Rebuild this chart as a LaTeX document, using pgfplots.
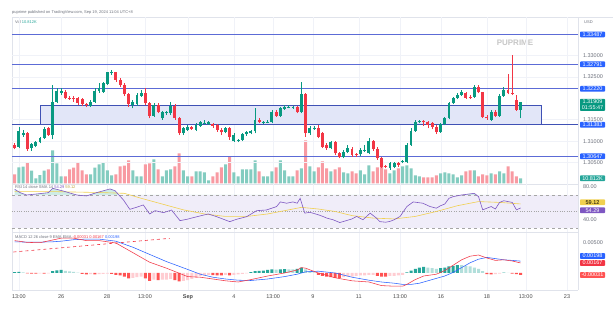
\documentclass[border=0pt]{standalone}
\usepackage{pgfplots}
\usepackage{pgfplotstable}
\pgfplotsset{compat=1.18}
\usepackage{fontspec}
\setmainfont{Liberation Sans}

\definecolor{tvgreen}{RGB}{8,153,129}
\definecolor{tvred}{RGB}{242,54,69}
\definecolor{volgreen}{RGB}{131,204,192}
\definecolor{volred}{RGB}{248,154,162}
\definecolor{hline}{RGB}{92,107,214}
\definecolor{boxfill}{RGB}{226,230,248}
\definecolor{boxedge}{RGB}{63,81,181}
\definecolor{lblblue}{RGB}{41,98,255}
\definecolor{rsipurple}{RGB}{126,87,194}
\definecolor{rsiyellow}{RGB}{240,208,80}
\definecolor{rsiband}{RGB}{240,237,249}
\definecolor{obfill}{RGB}{206,236,230}
\definecolor{hG}{RGB}{38,166,154}
\definecolor{hg}{RGB}{178,223,219}
\definecolor{hR}{RGB}{255,82,82}
\definecolor{hr}{RGB}{255,205,210}
\definecolor{gridc}{RGB}{240,242,248}
\definecolor{framec}{RGB}{224,227,235}
\definecolor{axtext}{RGB}{110,114,125}
\definecolor{voltxt}{RGB}{38,166,154}

\newcommand\tl{\fontsize{5.5}{6.2}\selectfont}
\newcommand\hl{\fontsize{4}{5}\selectfont}

% i open high low close volume(K)
\pgfplotstableread{
i o h l c v
1 1.30871 1.31337 1.30833 1.31236 34.6
2 1.31143 1.31260 1.31104 1.31182 36.1
4 1.30848 1.30949 1.30778 1.30926 27.4
5 1.30895 1.30996 1.30856 1.30972 10.8
6 1.30972 1.31104 1.30949 1.31066 17.9
7 1.31081 1.31337 1.31058 1.31283 27.4
9 1.31143 1.32308 1.31042 1.31920 71.3
10 1.31920 1.32231 1.31881 1.32169 43.2
11 1.32130 1.32231 1.32075 1.32169 15.1
18 1.31819 1.31959 1.31796 1.31920 19.4
19 1.31920 1.32231 1.31897 1.32169 33.9
20 1.32169 1.32347 1.32130 1.32231 41.0
21 1.32153 1.32386 1.32130 1.32347 45.4
22 1.32332 1.32619 1.32308 1.32604 28.1
23 1.32580 1.32658 1.32541 1.32619 17.3
28 1.31842 1.31959 1.31765 1.31920 28.1
29 1.31858 1.32114 1.31827 1.32075 15.1
30 1.32060 1.32192 1.32037 1.32114 15.1
33 1.31594 1.31881 1.31570 1.31842 51.8
35 1.31532 1.31702 1.31493 1.31671 15.1
36 1.31648 1.31702 1.31609 1.31671 28.1
37 1.31648 1.31920 1.31609 1.31827 30.2
40 1.31182 1.31337 1.31143 1.31299 28.1
41 1.31260 1.31376 1.31236 1.31337 15.1
43 1.31260 1.31415 1.31236 1.31376 25.9
44 1.31361 1.31469 1.31337 1.31438 25.9
45 1.31415 1.31493 1.31392 1.31423 23.8
46 1.31400 1.31477 1.31376 1.31454 6.5
50 1.31221 1.31337 1.31182 1.31314 41.0
52 1.31003 1.31182 1.30988 1.31143 23.8
53 1.31011 1.31058 1.30972 1.31027 15.1
54 1.31027 1.31182 1.31003 1.31159 30.2
55 1.31159 1.31236 1.31120 1.31205 30.2
56 1.31182 1.31260 1.31159 1.31236 30.2
57 1.31236 1.31765 1.31182 1.31493 49.7
59 1.31438 1.31477 1.31392 1.31446 15.1
60 1.31446 1.31493 1.31415 1.31454 15.1
61 1.31454 1.31726 1.31415 1.31687 25.9
63 1.31594 1.31803 1.31570 1.31765 49.7
64 1.31749 1.31842 1.31726 1.31803 28.1
65 1.31796 1.31835 1.31765 1.31803 15.1
66 1.31780 1.31819 1.31749 1.31788 15.1
68 1.31671 1.32386 1.31648 1.32091 32.4
70 1.31182 1.31353 1.31143 1.31314 36.7
71 1.31283 1.31353 1.31260 1.31314 25.9
75 1.30833 1.31011 1.30809 1.30972 25.9
78 1.30638 1.30794 1.30599 1.30755 23.8
79 1.30739 1.30910 1.30716 1.30848 21.6
82 1.30693 1.30833 1.30662 1.30794 28.1
83 1.30794 1.30910 1.30755 1.30801 19.4
84 1.30716 1.31066 1.30693 1.31003 38.9
89 1.30366 1.30522 1.30328 1.30483 21.6
90 1.30405 1.30522 1.30366 1.30483 28.1
92 1.30514 1.30561 1.30483 1.30530 36.7
93 1.30522 1.30949 1.30483 1.30910 38.9
94 1.30910 1.31299 1.30887 1.31236 32.4
95 1.31236 1.31493 1.31221 1.31454 17.3
96 1.31446 1.31493 1.31415 1.31462 15.1
101 1.31221 1.31415 1.31198 1.31392 21.6
102 1.31392 1.31570 1.31368 1.31532 23.8
103 1.31532 1.31920 1.31508 1.31881 21.6
104 1.31881 1.32037 1.31858 1.31998 19.4
105 1.31998 1.32114 1.31974 1.32075 13.0
106 1.32075 1.32192 1.32052 1.32153 17.3
109 1.32037 1.32308 1.32013 1.32270 28.1
113 1.31493 1.31726 1.31469 1.31687 21.6
115 1.31594 1.32091 1.31570 1.32060 25.9
116 1.32060 1.32270 1.32037 1.32192 21.6
120 1.31726 1.31920 1.31532 1.31909 10.8
}\greenc

\pgfplotstableread{
i o h l c v
0 1.30910 1.30949 1.30809 1.30848 19.4
3 1.31182 1.31221 1.30778 1.30809 45.4
8 1.31299 1.31337 1.31120 1.31143 30.2
12 1.32138 1.32192 1.31974 1.32013 15.1
13 1.32013 1.32052 1.31959 1.31990 30.2
14 1.31998 1.32052 1.31920 1.31990 33.9
15 1.31998 1.32037 1.31842 1.31881 45.4
16 1.31974 1.32013 1.31819 1.31858 28.1
17 1.31858 1.31897 1.31803 1.31835 19.4
24 1.32604 1.32619 1.32386 1.32425 19.4
25 1.32425 1.32464 1.32270 1.32308 36.7
26 1.32308 1.32347 1.32052 1.32091 38.2
27 1.32091 1.32130 1.31803 1.31858 49.7
31 1.32114 1.32231 1.31842 1.31881 41.0
32 1.31881 1.31920 1.31532 1.31594 43.2
34 1.31842 1.31881 1.31648 1.31687 30.2
38 1.31827 1.31858 1.31493 1.31532 36.7
39 1.31532 1.31570 1.31143 1.31182 64.8
42 1.31337 1.31361 1.31260 1.31283 15.1
47 1.31400 1.31431 1.31314 1.31353 15.1
48 1.31376 1.31400 1.31221 1.31260 23.8
49 1.31260 1.31299 1.31143 1.31205 34.6
51 1.31314 1.31337 1.31027 1.31104 58.3
58 1.31493 1.31532 1.31415 1.31454 25.9
62 1.31687 1.31726 1.31570 1.31594 34.6
67 1.31803 1.31827 1.31648 1.31671 28.1
69 1.32091 1.32114 1.31104 1.31182 92.9
72 1.31299 1.31376 1.31066 1.31104 34.6
73 1.31182 1.31221 1.30833 1.30871 47.5
74 1.30910 1.30949 1.30794 1.30833 32.4
76 1.30972 1.31003 1.30677 1.30716 30.2
77 1.30716 1.30755 1.30599 1.30638 34.6
80 1.30809 1.30856 1.30638 1.30677 25.9
81 1.30700 1.30732 1.30638 1.30677 21.6
85 1.31003 1.31027 1.30778 1.30817 25.9
86 1.30817 1.30856 1.30561 1.30599 34.6
87 1.30599 1.30638 1.30366 1.30405 47.5
88 1.30413 1.30444 1.30366 1.30405 30.2
91 1.30483 1.30522 1.30405 1.30444 32.4
97 1.31462 1.31493 1.31353 1.31454 13.0
98 1.31454 1.31477 1.31299 1.31376 13.0
99 1.31415 1.31454 1.31275 1.31337 13.0
100 1.31337 1.31376 1.31166 1.31221 17.3
107 1.32130 1.32153 1.31990 1.32013 25.9
108 1.32037 1.32075 1.31990 1.32013 28.1
110 1.32270 1.32308 1.32114 1.32138 15.1
111 1.32138 1.32153 1.31532 1.31570 19.4
112 1.31570 1.31609 1.31493 1.31532 17.3
114 1.31687 1.31726 1.31570 1.31594 19.4
117 1.32192 1.32557 1.32091 1.32114 36.7
118 1.32114 1.33008 1.32075 1.32106 25.9
119 1.31959 1.32075 1.31702 1.31726 15.1
}\redc

\pgfplotstableread{
i v
0 76.9
1.3 72.8
2.8 70
5.2 71.2
8 72.8
9 78.1
11.5 74.8
14.7 70
17 68.8
19.4 72.8
22.6 77.3
23.8 75.2
25.8 63.9
27.3 52.6
28.9 55.1
30.5 57.9
32 47
33.3 51
35.3 48.6
37.2 51.8
39.2 38.9
40.8 40.5
43.9 44.5
45.9 47
47.9 43.7
51 37.7
52.6 40.5
55 43.7
57.4 51
59.7 51.8
62.1 55.9
63 61.6
64.5 60
66 61.6
67 60
67.7 66
68.8 48
70 49
70.7 48
72 46
73.1 44
74 42
75.5 40
77.1 36.6
78.7 39
80 41
81.1 44
82.6 40
84.3 48
85.8 42
86.6 37.7
88 37
89 38
90 40
91.4 44
93 55.9
94.5 61.6
96.8 60
98.5 56
100 54
101 57
102 59
103 66
104 68
106 70
109 72
110 68
111 52
113 56
114 53
115 61
116 63
117 62
118 61
119 52
120 54.29
}\rsi

\pgfplotstableread{
i v
0 74
10 74
20 73
26 72
30 66
35 59
40 52
45 47
50 44
55 44
60 47
65 52
68 55
72 53
76 50
80 45
85 42
90 41
95 44
100 50
105 57
110 62
115 61
120 59.12
}\rsima

\pgfplotstableread{
i m s
0 0.00540 0.00520
3 0.00510 0.00515
6 0.00505 0.00515
9 0.00550 0.00520
11 0.00580 0.00530
14 0.00580 0.00555
17 0.00540 0.00565
20 0.00540 0.00565
24 0.00500 0.00530
28 0.00340 0.00430
32 0.00180 0.00310
36 0.00080 0.00190
41 -0.00060 0.00060
44 -0.00070 -0.00020
47 -0.00100 -0.00070
50 -0.00130 -0.00100
53 -0.00150 -0.00120
56 -0.00110 -0.00125
60 -0.00050 -0.00100
64 0.00000 -0.00060
67 0.00050 -0.00020
68 0.00090 0.00000
69 0.00080 0.00020
72 0.00000 0.00030
76 -0.00080 0.00000
80 -0.00130 -0.00070
84 -0.00150 -0.00120
87 -0.00210 -0.00150
90 -0.00220 -0.00170
92 -0.00220 -0.00190
93 -0.00190 -0.00190
94 -0.00150 -0.00190
95 -0.00110 -0.00180
96 -0.00080 -0.00170
97 -0.00050 -0.00150
98 -0.00040 -0.00130
100 -0.00020 -0.00090
102 0.00040 -0.00050
104 0.00130 0.00010
106 0.00220 0.00090
108 0.00280 0.00170
110 0.00300 0.00230
112 0.00250 0.00260
114 0.00210 0.00240
116 0.00220 0.00220
118 0.00200 0.00210
120 0.00167 0.00198
}\macd

\pgfplotstableread{
i h
0 0.00015
1 0.0002
9 0.0003
10 0.00045
11 0.0005
56 0.00015
57 0.0003
58 0.00035
59 0.0004
60 0.0005
61 0.0006
63 0.0006
64 0.00065
67 0.0007
68 0.0009
93 0.0001
94 0.0004
95 0.0007
96 0.0009
97 0.001
101 0.0008
102 0.0009
103 0.0011
104 0.0012
105 0.0013
116 0.00005
}\hGt

\pgfplotstableread{
i h
2 0.0001
12 0.00035
13 0.00025
14 0.0002
15 0.00005
62 0.00055
65 0.0006
66 0.0006
69 0.0006
70 0.0003
71 0.00012
98 0.0009
99 0.0008
100 0.0007
106 0.0013
107 0.0012
108 0.0011
109 0.0009
110 0.0007
111 0.0003
117 0.00003
}\hgt

\pgfplotstableread{
i h
3 -0.00005
4 -0.0001
5 -0.00012
7 -0.0001
16 -0.00015
17 -0.00025
19 -0.00025
23 -0.00015
24 -0.0003
25 -0.0004
26 -0.0006
27 -0.0009
31 -0.0009
32 -0.0013
34 -0.0012
38 -0.0012
39 -0.0014
47 -0.00035
48 -0.0004
49 -0.0004
51 -0.0004
72 -0.0003
73 -0.0005
74 -0.0006
75 -0.0007
76 -0.0008
77 -0.0008
86 -0.0005
87 -0.0006
88 -0.0006
112 -0.0002
113 -0.00025
118 -0.0001
119 -0.0002
120 -0.00031
}\hRt

\pgfplotstableread{
i h
6 -0.00008
8 -0.00005
18 -0.0002
20 -0.0002
21 -0.00015
22 -0.0001
28 -0.0008
29 -0.0007
30 -0.0006
33 -0.0011
35 -0.0011
36 -0.0011
37 -0.001
40 -0.0013
41 -0.0012
42 -0.001
43 -0.0008
44 -0.0005
45 -0.0004
46 -0.0003
50 -0.0003
52 -0.0003
53 -0.00025
54 -0.00015
55 -0.00005
78 -0.0007
79 -0.0006
80 -0.0006
81 -0.0005
82 -0.0004
83 -0.0004
84 -0.0003
85 -0.0003
89 -0.0005
90 -0.0005
91 -0.0004
92 -0.0003
114 -0.0002
115 -0.0001
}\hrt

\tikzset{
  lbl/.style={anchor=west, xshift=1.8pt, text=white, inner sep=0.9pt,
    minimum width=25pt, font=\tl, rounded corners=0.8pt},
}
\pgfplotsset{
  tvpanel/.style={
    scale only axis, width=566pt, anchor=south west,
    xmin=-0.64, xmax=133.6,
    axis line style={draw=none}, major tick length=0pt,
    xtick={1.0,11.0,21.9,30.9,41.1,52.0,61.3,70.7,81.6,91.4,101.1,112.0,121.2,131.0},
    xticklabels={,,,,,,,,,,,,,}, xmajorgrids, grid style={draw=gridc, line width=0.4pt},
    yticklabel pos=right, scaled y ticks=false,
    yticklabel style={font=\tl, text=axtext, xshift=1.5pt},
    clip=false},
  wick/.style={draw=none, mark=none, forget plot,
    error bars/.cd, y dir=plus, y explicit, error mark=none,
    error bar style={draw=#1, line width=0.6pt}},
  body/.style={draw=none, mark=none, forget plot,
    error bars/.cd, y dir=plus, y explicit, error mark=none,
    error bar style={draw=#1, line width=2.9pt}},
}

\begin{document}
\begin{tikzpicture}
\fill[white] (0pt,0pt) rectangle (613pt,312pt);
\useasboundingbox (0pt,0pt) rectangle (613pt,312pt);

% frame and panel separators
\draw[framec, line width=0.5pt] (12pt,22pt) -- (12pt,295pt) -- (613pt,295pt);
\draw[framec, line width=0.5pt] (578pt,22pt) -- (578pt,295pt);
\draw[framec, line width=0.5pt] (12pt,128pt) -- (578pt,128pt);
\draw[framec, line width=0.5pt] (12pt,79.5pt) -- (578pt,79.5pt);
\draw[framec, line width=0.5pt] (12pt,22pt) -- (578pt,22pt);

% header texts
\node[anchor=west, font=\hl, text=axtext, inner sep=0] at (12pt,299.3pt)
  {puprime published on TradingView.com, Sep 19, 2024 11:04 UTC+8};
\node[anchor=west, font=\hl, inner sep=0] at (15pt,290.3pt)
  {\textcolor{axtext}{Vol}\ \textcolor{voltxt}{10.812K}};
\node[anchor=west, font=\hl, text=axtext, inner sep=0] at (584pt,290pt)
  {USD};
\node[anchor=center, font=\bfseries\fontsize{8}{9}\selectfont, text=black!22] at (515pt,269.5pt) {PUPRIME};

% ---------------- volume (shares the price panel box) ----------------
\begin{axis}[tvpanel, at={(12pt,128pt)}, height=167pt, ymin=-1.51, ymax=359.2, ytick=\empty]
\addplot[ybar, bar width=3pt, bar shift=0pt, draw=none, fill=volgreen, forget plot]
  table[x=i, y=v]{\greenc};
\addplot[ybar, bar width=3pt, bar shift=0pt, draw=none, fill=volred, forget plot]
  table[x=i, y=v]{\redc};
\node[lbl, fill=voltxt] at (axis cs:133.6,10.812) {10.812K};
\end{axis}

% ---------------- price panel ----------------
\begin{axis}[tvpanel, at={(12pt,128pt)}, height=167pt,
  ymin=1.300014, ymax=1.338933, xmajorgrids=false, ymajorgrids,
  ytick={1.305,1.31,1.315,1.325,1.33},
  yticklabels={1.30500,1.31000,1.31500,1.32500,1.33000}]
\fill[boxfill] (axis cs:6,1.31383) rectangle (axis cs:125,1.31836);
\draw[boxedge, line width=0.6pt] (axis cs:6,1.31383) rectangle (axis cs:125,1.31836);
\addplot[hline, line width=0.7pt, forget plot] coordinates {(-0.64,1.33487) (133.6,1.33487)};
\addplot[hline, line width=0.7pt, forget plot] coordinates {(-0.64,1.32791) (133.6,1.32791)};
\addplot[hline, line width=0.7pt, forget plot] coordinates {(-0.64,1.32220) (133.6,1.32220)};
\addplot[boxedge, line width=0.7pt, forget plot] coordinates {(-0.64,1.31383) (133.6,1.31383)};
\addplot[hline, line width=0.7pt, forget plot] coordinates {(-0.64,1.30647) (133.6,1.30647)};
% candles
\addplot[wick=tvgreen] table[x=i, y=l, y error plus expr={\thisrow{h}-\thisrow{l}}]{\greenc};
\addplot[wick=tvred] table[x=i, y=l, y error plus expr={\thisrow{h}-\thisrow{l}}]{\redc};
\addplot[body=tvgreen] table[x=i, y=o, y error plus expr={max(\thisrow{c}-\thisrow{o},0.00005)}]{\greenc};
\addplot[body=tvred] table[x=i, y=c, y error plus expr={max(\thisrow{o}-\thisrow{c},0.00005)}]{\redc};
% price scale labels
\node[lbl, fill=lblblue] at (axis cs:133.6,1.33487) {1.33487};
\node[lbl, fill=lblblue] at (axis cs:133.6,1.32791) {1.32791};
\node[lbl, fill=lblblue] at (axis cs:133.6,1.32220) {1.32220};
\node[lbl, fill=tvgreen, align=center, anchor=north west, yshift=3.4pt] at (axis cs:133.6,1.31909) {1.31909\\01:55:47};
\node[lbl, fill=lblblue] at (axis cs:133.6,1.31383) {1.31383};
\node[lbl, fill=lblblue] at (axis cs:133.6,1.30647) {1.30647};
\end{axis}

% ---------------- RSI panel ----------------
\begin{axis}[tvpanel, at={(12pt,80pt)}, height=47.5pt, ymin=25.15, ymax=82.7,
  ytick={40,80}, yticklabels={40.00,80.00}]
\fill[rsiband] (axis cs:-0.64,30) rectangle (axis cs:133.6,70);
\draw[black!35, dashed, line width=0.35pt] (axis cs:-0.64,70) -- (axis cs:133.6,70);
\draw[black!35, dotted, line width=0.35pt] (axis cs:-0.64,50) -- (axis cs:133.6,50);
\draw[black!35, dashed, line width=0.35pt] (axis cs:-0.64,30) -- (axis cs:133.6,30);
\end{axis}
% overbought fill: same scale, clipped to RSI >= 70
\begin{axis}[scale only axis, width=566pt, height=10.48pt, at={(12pt,117.02pt)}, anchor=south west,
  xmin=-0.64, xmax=133.6, ymin=70, ymax=82.7, hide axis, clip=true]
\addplot[fill=obfill, draw=none, forget plot] table[x=i, y=v]{\rsi} \closedcycle;
\end{axis}
\begin{axis}[tvpanel, at={(12pt,80pt)}, height=47.5pt, ymin=25.15, ymax=82.7,
  ytick=\empty, xmajorgrids=false]
\addplot[rsiyellow, line width=0.6pt, forget plot] table[x=i, y=v]{\rsima};
\addplot[rsipurple, line width=0.6pt, forget plot] table[x=i, y=v]{\rsi};
\node[lbl, fill=rsiyellow, text=black] at (axis cs:133.6,61.2) {59.12};
\node[lbl, fill=rsipurple] at (axis cs:133.6,51.5) {54.29};
\end{axis}
\node[anchor=west, font=\hl, inner sep=0] at (15pt,125pt)
  {\textcolor{axtext}{RSI 14 close SMA 14}\ \textcolor{rsipurple}{54.29}\ \textcolor{rsiyellow!80!black}{59.12}};

% ---------------- MACD panel ----------------
\begin{axis}[tvpanel, at={(12pt,22pt)}, height=57pt, ymin=-0.002833, ymax=0.006667,
  ytick={0.005}, yticklabels={0.00500},
  xticklabels={13:00,26,28,13:00,\textbf{Sep},4,13:00,9,11,13:00,16,18,13:00,23},
  xticklabel style={anchor=center, yshift=-7pt, font=\tl, text=black!70}]
\addplot[ybar, bar width=3pt, bar shift=0pt, draw=none, fill=hG, forget plot] table[x=i, y=h]{\hGt};
\addplot[ybar, bar width=3pt, bar shift=0pt, draw=none, fill=hg, forget plot] table[x=i, y=h]{\hgt};
\addplot[ybar, bar width=3pt, bar shift=0pt, draw=none, fill=hR, forget plot] table[x=i, y=h]{\hRt};
\addplot[ybar, bar width=3pt, bar shift=0pt, draw=none, fill=hr, forget plot] table[x=i, y=h]{\hrt};
\addplot[lblblue, line width=0.55pt, forget plot] table[x=i, y=s]{\macd};
\addplot[tvred, line width=0.55pt, forget plot] table[x=i, y=m]{\macd};
\addplot[tvred, dashed, line width=0.6pt, forget plot] coordinates {(-0.3,0.0035) (36.8,0.00578)};
\node[lbl, fill=lblblue] at (axis cs:133.6,0.00283) {0.00198};
\node[lbl, fill=tvred] at (axis cs:133.6,0.00167) {0.00167};
\node[lbl, fill=hR] at (axis cs:133.6,-0.00033) {-0.00031};
\end{axis}
\node[anchor=west, font=\hl, inner sep=0] at (15pt,75pt)
  {\textcolor{axtext}{MACD 12 26 close 9 EMA EMA}\ \textcolor{tvred}{-0.00031}\ \textcolor{tvred}{0.00167}\ \textcolor{lblblue}{0.00198}};
\end{tikzpicture}
\end{document}
